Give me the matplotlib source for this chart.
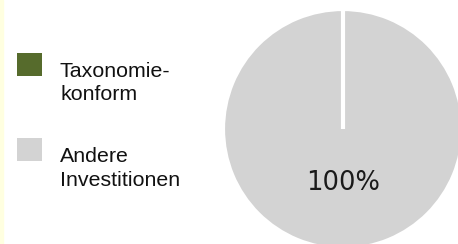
import numpy as np
import matplotlib.pyplot as plt
from matplotlib.patches import Rectangle

# data
labels = ["Taxonomie-\nkonform", "Andere\nInvestitionen"]
values = [0, 100]
colors = ["#566b2c", "#d3d3d3"]

W, H, DPI = 458, 244, 100
fig = plt.figure(figsize=(W / DPI, H / DPI), dpi=DPI)

# pale yellow strip at the left edge
fig.patches.append(Rectangle((0, 0), 3 / W, 1, transform=fig.transFigure,
                             color="#ffffe0", zorder=0))

# pie axes, square box in pixels
cx, cy, r = 343, H - 129, 120
ax = fig.add_axes([(cx - r) / W, (cy - r) / H, 2 * r / W, 2 * r / H])

def pct(p):
    return "%1.0f%%" % p if p > 0 else ""

wedges, texts, autotexts = ax.pie(values, colors=colors, startangle=90,
                                  counterclock=False, autopct=pct,
                                  pctdistance=0.45,
                                  wedgeprops=dict(edgecolor="white", linewidth=3),
                                  textprops=dict(fontsize=18.5, color="#1a1a1a",
                                                 family="DejaVu Sans"))
# separator where the empty slice sits
w0 = wedges[0]
ang = np.deg2rad(w0.theta1)
ax.plot([0, w0.r * np.cos(ang)], [0, w0.r * np.sin(ang)], color="white",
        lw=3, solid_capstyle="butt")
ax.set_xlim(-1, 1)
ax.set_ylim(-1, 1)
ax.set_aspect("equal")
ax.axis("off")

# legend drawn by hand (pixel positions from top-left)
for i, (lab, col) in enumerate(zip(labels, colors)):
    top = 53 + 85 * i
    fig.patches.append(Rectangle((17 / W, 1 - (top + 23) / H), 25 / W, 23 / H,
                                 transform=fig.transFigure, facecolor=col,
                                 edgecolor="none"))
    fig.text(60 / W, 1 - (top + 9) / H, lab, ha="left", va="top",
             family="Liberation Sans", fontsize=15.4, color="#111111",
             linespacing=1.3)

fig.savefig("out.png", dpi=DPI)
